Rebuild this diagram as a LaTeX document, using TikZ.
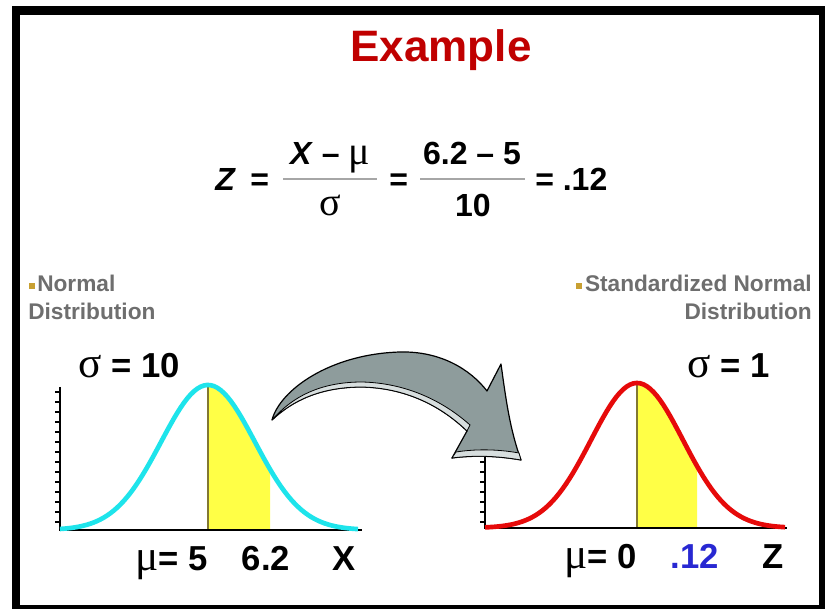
\documentclass[tikz,border=0pt]{standalone}
\usepackage{xcolor}
\usepackage{fontspec}
\setmainfont{Liberation Sans}
\newfontfamily\grk[Scale=1.25]{Liberation Serif}
\usepackage{tikz}

\definecolor{titlered}{RGB}{192,0,0}
\definecolor{bulletgold}{RGB}{200,160,50}
\definecolor{labelgray}{RGB}{110,110,110}
\definecolor{arrowgray}{RGB}{142,156,156}
\definecolor{bandgray}{RGB}{215,222,222}
\definecolor{shadeyellow}{RGB}{255,255,70}
\definecolor{curvecyan}{RGB}{30,228,235}
\definecolor{curvered}{RGB}{230,10,10}
\definecolor{zblue}{RGB}{40,40,210}
\definecolor{peakline}{RGB}{130,120,50}
\newcommand{\gsig}{{\grk\mdseries σ}}
\newcommand{\gmu}{{\grk\mdseries μ}}

\begin{document}
\begin{tikzpicture}[x=0.75pt, y=-0.75pt,
    lbl/.style={inner sep=0pt, font=\fontsize{26}{29}\selectfont\bfseries},
    eq/.style={inner sep=0pt, font=\fontsize{24}{27}\selectfont\bfseries},
    captxt/.style={inner sep=0pt, text=labelgray, font=\fontsize{17}{21}\selectfont\bfseries},
    axis/.style={line width=2.2pt},
    tick/.style={line width=0.8pt},
    fracbar/.style={gray!70, line width=1.1pt},
    declare function={lbell(\x)=530-145*exp(-0.5*((\x-208)/47)^2);
                      rbell(\x)=528-145*exp(-0.5*((\x-637)/46)^2);}]
    \fill[white] (0,0) rectangle (825,609);
    \fill[black] (12,6) rectangle (825,609);
    \fill[white] (20,15) rectangle (819,605);
    \useasboundingbox (0,0) rectangle (825,609);

    \node[inner sep=0pt, anchor=base, text=titlered,
          font=\fontsize{33}{36}\selectfont\bfseries] (title) at (441,62) {Example};

    \node[eq, anchor=base west] (zlhs) at (215,191) {\textit{Z}};
    \node[eq, anchor=base west] (eqone) at (250,191) {=};
    \node[eq, anchor=base] (num1) at (330,165) {\textit{X} – \gmu};
    \node[eq, anchor=base] (den1) at (330,216) {\gsig};
    \draw[fracbar] (283,179) -- (377,179);
    \node[eq, anchor=base west] (eqtwo) at (389,191) {=};
    \node[eq, anchor=base] (num2) at (472,165) {6.2 – 5};
    \node[eq, anchor=base] (den2) at (473,217) {10};
    \draw[fracbar] (420,179) -- (525,179);
    \node[eq, anchor=base west] (res) at (535,191) {= .12};

    \fill[bulletgold] (29,283) rectangle (35,289);
    \node[captxt, anchor=base west] (lcapa) at (37,292) {Normal};
    \node[captxt, anchor=base west] (lcapb) at (28,320) {Distribution};
    \fill[bulletgold] (576,283) rectangle (582,289);
    \node[captxt, anchor=base east] (rcapa) at (812,292) {Standardized Normal};
    \node[captxt, anchor=base east] (rcapb) at (812,320) {Distribution};

    \fill[shadeyellow] (208,530) -- plot[domain=208:270, samples=30] (\x,{lbell(\x)})
          -- (270,530) -- cycle;
    \draw[peakline, line width=1pt] (208,385) -- (208,530);
    \foreach \t in {392,402,...,522} \draw[tick] (55,\t) -- (60,\t);
    \draw[axis] (60,387) -- (60,530) -- (362,530);
    \draw[curvecyan, line width=3.5pt] plot[domain=60:358, samples=90] (\x,{lbell(\x)});
    \node[lbl, anchor=base west] (lsig) at (78,378) {\gsig{} = 10};
    \node[lbl, anchor=base east] (lmu) at (208,570) {\gmu= 5};
    \node[lbl, anchor=base] (lval) at (266,570) {6.2};
    \node[lbl, anchor=base west] (lx) at (332,570) {X};

    \fill[shadeyellow] (637,528) -- plot[domain=637:697, samples=30] (\x,{rbell(\x)})
          -- (697,528) -- cycle;
    \draw[peakline, line width=1pt] (637,383) -- (637,528);
    \foreach \t in {392,402,...,522} \draw[tick] (480,\t) -- (485,\t);
    \draw[axis] (485,392) -- (485,528) -- (787,528);
    \draw[curvered, line width=3.5pt] plot[domain=485:785, samples=90] (\x,{rbell(\x)});
    \node[lbl, anchor=base west] (rsig) at (687,378) {\gsig{} = 1};
    \node[lbl, anchor=base east] (rmu) at (637,568) {\gmu= 0};
    \node[lbl, anchor=base, text=zblue] (rval) at (695,568) {.12};
    \node[lbl, anchor=base west] (rz) at (762,568) {Z};

    \filldraw[fill=arrowgray, draw=black, line width=0.9pt, line join=round]
          (272,420) .. controls (280,390) and (330,354) .. (400,352)
          .. controls (440,351) and (470,369) .. (487,391)
          -- (501,364) .. controls (506,400) and (510,430) .. (521,460)
          .. controls (498,456) and (475,455) .. (452,458)
          -- (467,431) .. controls (440,405) and (405,388) .. (362,387)
          .. controls (320,387) and (292,401) .. (272,420) -- cycle;
    \filldraw[fill=bandgray, draw=black, line width=0.6pt]
          (467,431) .. controls (440,405) and (405,388) .. (362,387)
          .. controls (320,387) and (292,401) .. (272,420)
          .. controls (292,397) and (320,382) .. (362,382)
          .. controls (405,383) and (442,400) .. (470,425) -- cycle;
    \filldraw[fill=bandgray, draw=black, line width=0.6pt]
          (452,458) .. controls (475,455) and (498,456) .. (521,460)
          -- (519,453) .. controls (497,449) and (475,449) .. (456,452) -- cycle;
\end{tikzpicture}
\end{document}
